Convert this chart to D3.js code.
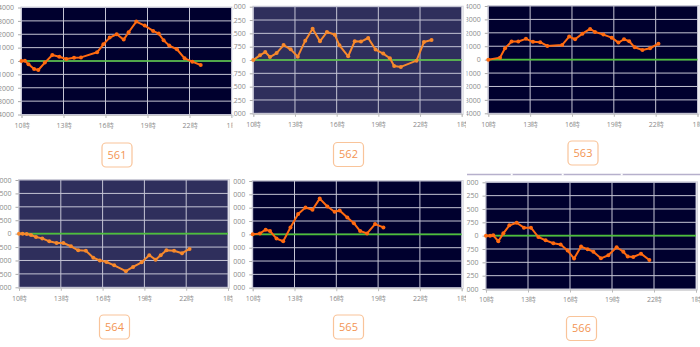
<!DOCTYPE html>
<html><head><meta charset="utf-8">
<script src="https://cdn.jsdelivr.net/npm/d3@7"></script>
<style>html,body{margin:0;padding:0;background:#fff;overflow:hidden}svg{display:block}</style>
</head><body>
<svg id="c" width="700" height="347"></svg>
<script>
// ---- data ----
const tickHours = [10, 13, 16, 19, 22, 25];
const tickLabels = ["10時", "13時", "16時", "19時", "22時", "1時"];
const panelNames = ["561", "562", "563", "564", "565", "566"];

const times561 = [10.0,10.24,10.5,10.9,11.2,11.67,12.2,12.7,13.2,13.75,14.25,15.4,15.85,16.3,16.8,17.3,17.65,18.2,18.8,19.4,19.8,20.15,20.55,21.1,21.65,22.2,22.8];
const values561 = [0,20,-250,-600,-670,-120,450,320,150,250,270,650,1250,1750,2000,1600,2150,2950,2650,2250,2050,1550,1150,880,200,-50,-300];

const times562 = [10,10.48,10.86,11.2,11.68,12.18,12.69,13.2,13.74,14.27,14.8,15.3,15.86,16.2,16.83,17.3,17.75,18.27,18.8,19.35,19.83,20.14,20.62,21.75,22.28,22.83];
const values562 = [0,1310,2250,830,1950,4200,3000,940,5440,8810,5250,7880,7130,4130,1050,5250,5180,6190,2930,1800,490,-1690,-1950,-190,5060,5630];

const times563 = [10,10.84,11.2,11.67,12.15,12.7,13.2,13.72,14.23,15.3,15.8,16.22,16.75,17.3,17.65,18.25,18.85,19.33,19.73,20.1,20.5,21.05,21.6,22.2];
const values563 = [0,150,850,1350,1350,1550,1330,1300,1020,1100,1720,1520,1940,2290,2070,1870,1640,1270,1520,1370,920,720,850,1190];

const times564 = [10,10.26,10.55,10.86,11.22,11.67,12.17,12.7,13.18,13.73,14.25,14.8,15.33,15.8,16.28,16.83,17.67,18.19,18.8,19.35,19.8,20.17,20.58,21.13,21.7,22.24];
const values564 = [0,0,-30,-150,-380,-530,-860,-1050,-1050,-1410,-1860,-1910,-2690,-2990,-3170,-3540,-4200,-3720,-3200,-2420,-2910,-2420,-1860,-1910,-2190,-1710];

const times565 = [10,10.52,10.93,11.24,11.71,12.19,12.71,13.26,13.79,14.29,14.81,15.36,15.88,16.24,16.79,17.26,17.71,18.21,18.78,19.38];
const values565 = [0,140,700,500,-640,-1040,1040,3040,4020,3680,5360,4180,3380,3580,2540,1680,500,140,1540,1040];

const times566 = [10,10.29,10.52,10.88,11.24,11.67,12.19,12.71,13.21,13.74,14.26,14.81,15.33,15.83,16.29,16.79,17.26,17.67,18.21,18.74,19.33,19.81,20.12,20.52,21.07,21.67];
const values566 = [0,0,80,-1580,640,2890,3640,2250,2250,-380,-1310,-2140,-2510,-4200,-6450,-3080,-3830,-4500,-6380,-5510,-3260,-4500,-5890,-6000,-5060,-6830];

const yMaxes = [4000, 15000, 4000, 6000, 8000, 15000];
const yFormats = ["d", ",", "d", ",", ",", ","];

// ---- layout / style ----
const layout = [
  {x0:21.5, x1:231.5, y0:7.5, y1:114.5, bg:"#00002e", line:"#ff6a10", clip:[0,232.6], box:[117,155]},
  {x0:253.3, x1:461.7, y0:6.7, y1:113.3, bg:"#2f2f5c", line:"#f7892c", clip:[233,466], box:[348.5,154.5]},
  {x0:488.3, x1:697.5, y0:6.0, y1:113.3, bg:"#00002e", line:"#ff6a10", clip:[466.5,700], box:[583,153]},
  {x0:19, x1:228, y0:180, y1:287.3, bg:"#2f2f5c", line:"#f7892c", clip:[0,232.6], box:[114.5,327]},
  {x0:252.7, x1:461.7, y0:181, y1:287.7, bg:"#00002e", line:"#ff6a10", clip:[233,466], box:[348.5,327]},
  {x0:486, x1:696, y0:182.3, y1:289, bg:"#00002e", line:"#ff6a10", clip:[466.5,700], box:[581.5,328.5]}
];
const allTimes = [times561, times562, times563, times564, times565, times566];
const allValues = [values561, values562, values563, values564, values565, values566];

const svg = d3.select("#c");
const defs = svg.append("defs");
const FONT = "'Open Sans','Noto Sans',sans-serif";

// tab line top-right
const tabY = 174.5;
svg.append("line").attr("x1",467).attr("x2",700).attr("y1",tabY).attr("y2",tabY)
  .attr("stroke","#b6b0cc").attr("stroke-width",1.4);
[511.7, 562.7, 621.7].forEach(gx => svg.append("rect").attr("x",gx-1).attr("y",tabY-1).attr("width",2).attr("height",2).attr("fill","#fff"));

layout.forEach((L, i) => {
  const cid = "clip" + i;
  defs.append("clipPath").attr("id", cid).append("rect")
    .attr("x", L.clip[0]).attr("y", 0).attr("width", L.clip[1]-L.clip[0]).attr("height", 347);
  const g = svg.append("g").attr("clip-path", `url(#${cid})`);

  const x = d3.scaleLinear().domain([10, 25]).range([L.x0, L.x1]);
  const yMax = yMaxes[i];
  const y = d3.scaleLinear().domain([-yMax, yMax]).range([L.y1, L.y0]);
  const yTicks = d3.range(-4, 5).map(k => k * yMax / 4);

  // plot background
  g.append("rect").attr("x", L.x0).attr("y", L.y0).attr("width", L.x1-L.x0).attr("height", L.y1-L.y0)
    .attr("fill", L.bg);
  // outer border
  g.append("rect").attr("x", L.x0-0.5).attr("y", L.y0-0.5).attr("width", L.x1-L.x0+2).attr("height", L.y1-L.y0+1.5)
    .attr("fill","none").attr("stroke","#d4d4dc").attr("stroke-width",1);

  // gridlines
  g.append("g").selectAll("line").data(yTicks).join("line")
    .attr("x1", L.x0).attr("x2", L.x1).attr("y1", d => y(d)).attr("y2", d => y(d))
    .attr("stroke", "#c4c4d4").attr("stroke-width", 1);
  g.append("g").selectAll("line").data(tickHours).join("line")
    .attr("x1", d => x(d)).attr("x2", d => x(d)).attr("y1", L.y0).attr("y2", L.y1)
    .attr("stroke", "#c4c4d4").attr("stroke-width", 1);

  // zero line
  g.append("line").attr("x1", L.x0).attr("x2", L.x1).attr("y1", y(0)).attr("y2", y(0))
    .attr("stroke", "#4cbf3a").attr("stroke-width", 1.6);

  // y axis
  const fmt = d3.format(yFormats[i]);
  const ya = d3.axisLeft(y).tickValues(yTicks).tickSize(3).tickPadding(4).tickFormat(d => fmt(d));
  const yg = g.append("g").attr("transform", `translate(${L.x0-0.5},0)`).call(ya);
  yg.select(".domain").remove();
  yg.selectAll(".tick line").attr("stroke", "#aaa");
  yg.selectAll("text").attr("fill", "#8a8a8a").style("font-family", FONT).style("font-size", "7px");

  // x axis
  const xa = d3.axisBottom(x).tickValues(tickHours).tickSize(3).tickPadding(5)
    .tickFormat((d, k) => tickLabels[k]);
  const xg = g.append("g").attr("transform", `translate(0,${L.y1+0.5})`).call(xa);
  xg.select(".domain").attr("stroke", "#c8c8c8");
  xg.selectAll(".tick line").attr("stroke", "#bbb");
  xg.selectAll("text").attr("fill", "#8a8a8a").style("font-family", FONT).style("font-size", "7px");

  // series
  const pts = allTimes[i].map((t, k) => [t, allValues[i][k]]);
  g.append("path").datum(pts)
    .attr("d", d3.line().x(d => x(d[0])).y(d => y(d[1])))
    .attr("fill", "none").attr("stroke", L.line).attr("stroke-width", 2).attr("stroke-linejoin", "round");
  g.append("g").selectAll("circle").data(pts).join("circle")
    .attr("cx", d => x(d[0])).attr("cy", d => y(d[1])).attr("r", 2).attr("fill", L.line);

  // label box
  const bw = 30, bh = 24;
  svg.append("rect").attr("x", L.box[0]-bw/2).attr("y", L.box[1]-bh/2).attr("width", bw).attr("height", bh)
    .attr("rx", 4).attr("fill", "#fff").attr("stroke", "#f9c49a").attr("stroke-width", 1.2);
  svg.append("text").attr("x", L.box[0]).attr("y", L.box[1]).attr("dy", "0.36em")
    .attr("text-anchor", "middle").attr("fill", "#f39553")
    .style("font-family", FONT).style("font-size", "11px").text(panelNames[i]);
});
</script>
</body></html>
